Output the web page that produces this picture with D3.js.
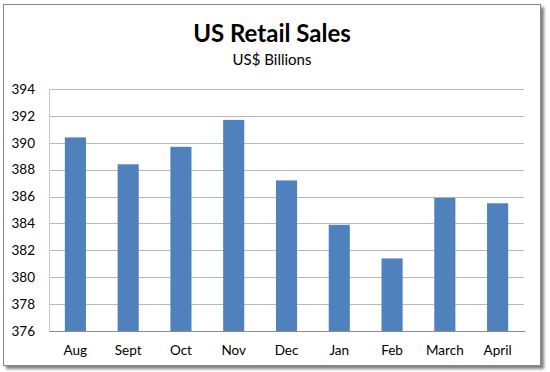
<!DOCTYPE html>
<html>
<head>
<meta charset="utf-8">
<script src="https://cdn.jsdelivr.net/npm/d3@7"></script>
<style>
  body { margin: 0; background: #fff; }
  svg text { font-family: Lato, "Open Sans", sans-serif; }
</style>
</head>
<body>
<div id="chart"></div>
<script>
const months = ['Aug', 'Sept', 'Oct', 'Nov', 'Dec', 'Jan', 'Feb', 'March', 'April'];
const sales = [390.4, 388.4, 389.7, 391.7, 387.2, 383.9, 381.4, 385.9, 385.5];
const yTicks = [376, 378, 380, 382, 384, 386, 388, 390, 392, 394];

const width = 550, height = 372;
const margin = { top: 89, right: 26, bottom: 41, left: 49 };
const plotW = width - margin.left - margin.right;
const plotH = height - margin.top - margin.bottom;

const svg = d3.select('#chart')
  .append('svg')
  .attr('width', width)
  .attr('height', height);

// drop shadow + frame
const defs = svg.append('defs');
const f = defs.append('filter').attr('id', 'shadow')
  .attr('x', '-5%').attr('y', '-5%').attr('width', '110%').attr('height', '110%');
f.append('feGaussianBlur').attr('in', 'SourceAlpha').attr('stdDeviation', 1.6);
f.append('feOffset').attr('dx', 3).attr('dy', 3).attr('result', 'b');
f.append('feComponentTransfer').append('feFuncA').attr('type', 'linear').attr('slope', 0.5);
const fm = f.append('feMerge');
fm.append('feMergeNode');
fm.append('feMergeNode').attr('in', 'SourceGraphic');

svg.append('rect')
  .attr('x', 3.5).attr('y', 4.5)
  .attr('width', 537).attr('height', 361)
  .attr('fill', '#fff')
  .attr('stroke', '#868686')
  .attr('stroke-width', 1)
  .attr('filter', 'url(#shadow)');

svg.append('text')
  .attr('x', 272).attr('y', 42)
  .attr('text-anchor', 'middle')
  .style('font-size', '24px')
  .style('font-weight', 'bold')
  .style('fill', '#000')
  .text('US Retail Sales');

svg.append('text')
  .attr('x', 272).attr('y', 65)
  .attr('text-anchor', 'middle')
  .style('font-size', '15px')
  .style('fill', '#000')
  .text('US$ Billions');

const chart = svg.append('g')
  .attr('transform', `translate(${margin.left},${margin.top})`);

const x = d3.scaleBand()
  .domain(months)
  .range([0, plotW])
  .paddingInner(0.6)
  .paddingOuter(0.3);

const y = d3.scaleLinear()
  .domain([376, 394])
  .range([plotH, 0]);

// gridlines
chart.append('g')
  .attr('class', 'grid')
  .call(d3.axisLeft(y).tickValues(yTicks).tickSize(-plotW).tickFormat(''))
  .call(g => g.select('.domain').remove())
  .call(g => g.selectAll('line')
    .attr('stroke', '#b8b8b8')
    .attr('shape-rendering', 'crispEdges'));

// left axis line
chart.append('line')
  .attr('x1', 0.5).attr('x2', 0.5)
  .attr('y1', 0).attr('y2', plotH)
  .attr('stroke', '#c8c8c8');

chart.append('g')
  .attr('class', 'y axis')
  .call(d3.axisLeft(y).tickValues(yTicks).tickSize(0).tickPadding(14))
  .call(g => g.select('.domain').remove())
  .selectAll('text')
  .style('font-size', '13.5px')
  .style('fill', '#000');

chart.selectAll('.bar')
  .data(sales)
  .enter()
  .append('rect')
  .attr('class', 'bar')
  .attr('x', (d, i) => x(months[i]))
  .attr('y', d => y(d))
  .attr('width', x.bandwidth())
  .attr('height', d => plotH - y(d))
  .attr('fill', '#4f81bd');

chart.append('g')
  .attr('class', 'x axis')
  .attr('transform', `translate(0,${plotH})`)
  .call(d3.axisBottom(x).tickSize(0).tickPadding(14))
  .call(g => g.select('.domain')
    .attr('stroke', '#8c8c8c')
    .attr('shape-rendering', 'crispEdges'))
  .selectAll('text')
  .style('font-size', '13.5px')
  .style('fill', '#000');
</script>
</body>
</html>
